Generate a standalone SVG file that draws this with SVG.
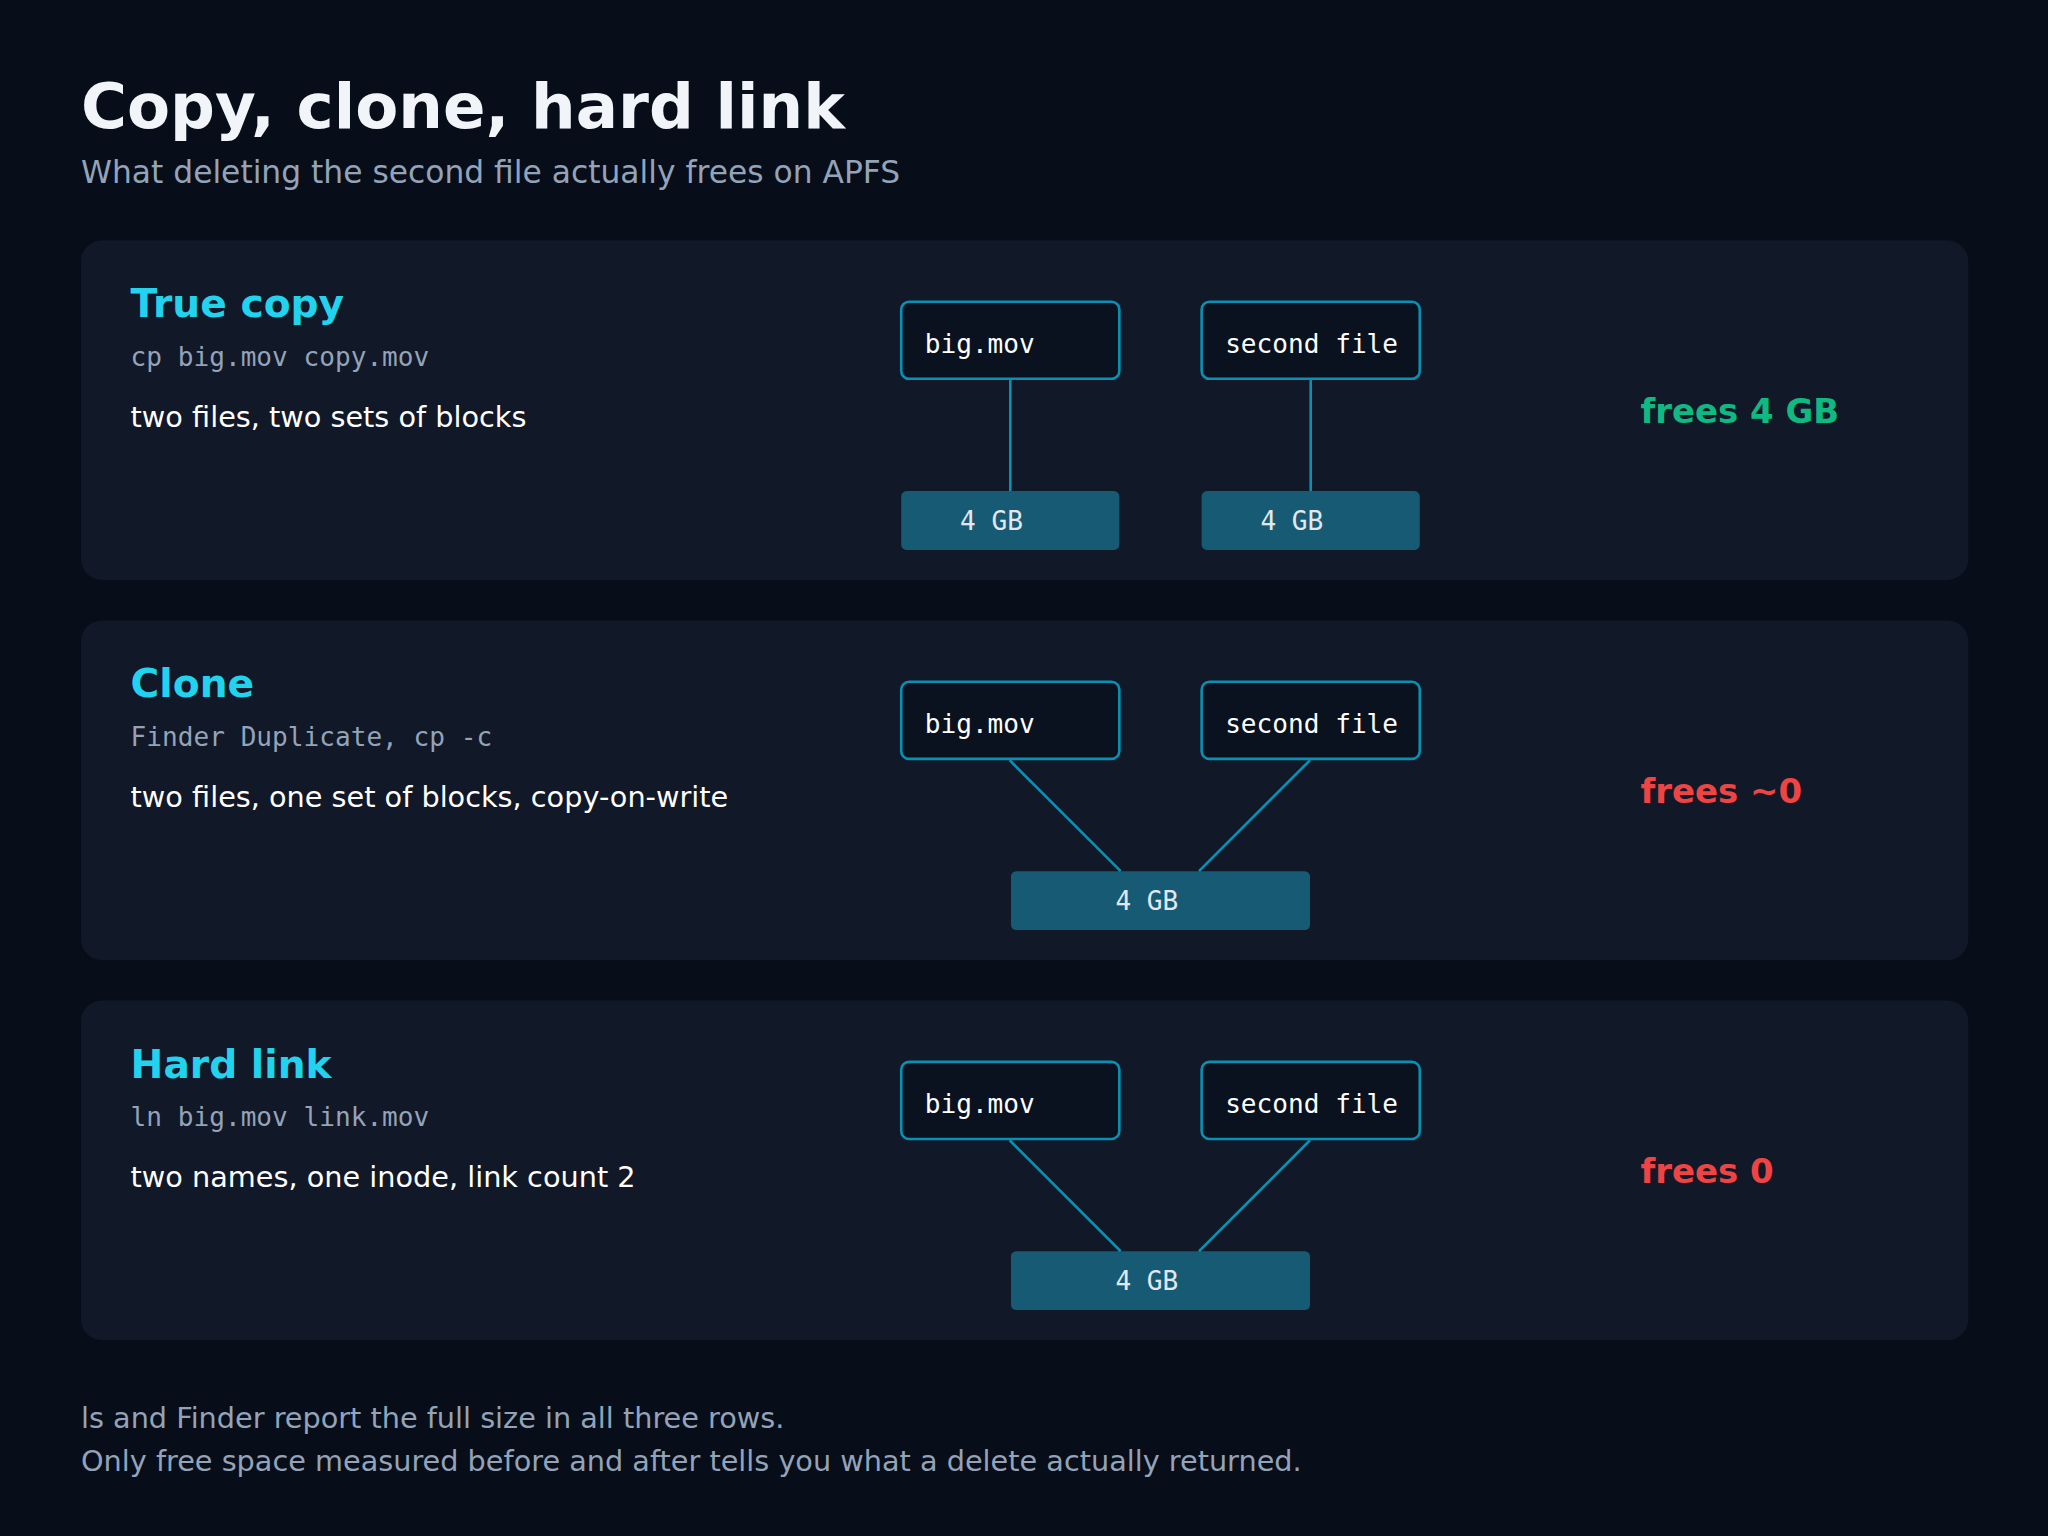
<svg xmlns="http://www.w3.org/2000/svg" width="2048" height="1536" viewBox="0 0 2048 1536">
<style>
.sans{font-family:"DejaVu Sans","Noto Sans",sans-serif}
.mono{font-family:"DejaVu Sans Mono","Liberation Mono",monospace}
.panel{fill:#111827}
.h{font-size:30px;font-weight:bold;fill:#22d3ee}
.cmd{font-size:20px;fill:#94a3b8}
.desc{font-size:22px;fill:#ffffff}
.file{fill:#0a1220;stroke:#0891b2;stroke-width:2}
.ft{font-size:20px;fill:#ffffff}
.blk{fill:#175a74}
.bt{font-size:20px;fill:#e2e8f0}
.conn{stroke:#0891b2;stroke-width:2;fill:none}
.res{font-size:26px;font-weight:bold}
</style>
<rect width="2048" height="1536" fill="#070e19"/>
<g transform="scale(1.30612)">
<g id="title">
<text x="62" y="98" class="sans" font-size="48" font-weight="bold" fill="#f1f5f9">Copy, clone, hard link</text>
<text x="62" y="140" class="sans" font-size="24" fill="#94a3b8">What deleting the second file actually frees on APFS</text>
</g>
<g id="row1">
<rect x="62" y="184" width="1445" height="260" rx="16" class="panel"/>
<text x="100" y="243" class="sans h">True copy</text>
<text x="100" y="280" class="mono cmd">cp big.mov copy.mov</text>
<text x="100" y="327" class="sans desc">two files, two sets of blocks</text>
<text x="1256" y="324" class="sans res" fill="#10b981">frees 4 GB</text>
</g>
<g id="row1-nodes">
<g id="r1-big"><rect x="690" y="231" width="167" height="59" rx="6" class="file"/><text x="708" y="270" class="mono ft">big.mov</text></g>
<g id="r1-second"><rect x="920" y="231" width="167" height="59" rx="6" class="file"/><text x="938" y="270" class="mono ft">second file</text></g>
<g id="r1-b1"><rect x="690" y="376" width="167" height="45" rx="4" class="blk"/><text x="735" y="406" class="mono bt">4 GB</text></g>
<g id="r1-b2"><rect x="920" y="376" width="167" height="45" rx="4" class="blk"/><text x="965" y="406" class="mono bt">4 GB</text></g>
</g>
<g id="row2">
<rect x="62" y="475" width="1445" height="260" rx="16" class="panel"/>
<text x="100" y="534" class="sans h">Clone</text>
<text x="100" y="571" class="mono cmd">Finder Duplicate, cp -c</text>
<text x="100" y="618" class="sans desc">two files, one set of blocks, copy-on-write</text>
<text x="1256" y="615" class="sans res" fill="#ef4444">frees ~0</text>
</g>
<g id="row2-nodes">
<g id="r2-big"><rect x="690" y="522" width="167" height="59" rx="6" class="file"/><text x="708" y="561" class="mono ft">big.mov</text></g>
<g id="r2-second"><rect x="920" y="522" width="167" height="59" rx="6" class="file"/><text x="938" y="561" class="mono ft">second file</text></g>
<g id="r2-b"><rect x="774" y="667" width="229" height="45" rx="4" class="blk"/><text x="854" y="697" class="mono bt">4 GB</text></g>
</g>
<g id="row3">
<rect x="62" y="766" width="1445" height="260" rx="16" class="panel"/>
<text x="100" y="825" class="sans h">Hard link</text>
<text x="100" y="862" class="mono cmd">ln big.mov link.mov</text>
<text x="100" y="909" class="sans desc">two names, one inode, link count 2</text>
<text x="1256" y="906" class="sans res" fill="#ef4444">frees 0</text>
</g>
<g id="row3-nodes">
<g id="r3-big"><rect x="690" y="813" width="167" height="59" rx="6" class="file"/><text x="708" y="852" class="mono ft">big.mov</text></g>
<g id="r3-second"><rect x="920" y="813" width="167" height="59" rx="6" class="file"/><text x="938" y="852" class="mono ft">second file</text></g>
<g id="r3-b"><rect x="774" y="958" width="229" height="45" rx="4" class="blk"/><text x="854" y="988" class="mono bt">4 GB</text></g>
</g>
<g id="connectors">
<line x1="773.5" y1="291" x2="773.5" y2="376" class="conn"/>
<line x1="1003.5" y1="291" x2="1003.5" y2="376" class="conn"/>
<line x1="773" y1="582" x2="858" y2="667" class="conn"/>
<line x1="1003" y1="582" x2="918" y2="667" class="conn"/>
<line x1="773" y1="873" x2="858" y2="958" class="conn"/>
<line x1="1003" y1="873" x2="918" y2="958" class="conn"/>
</g>
<g id="footer">
<text x="62" y="1093" class="sans" font-size="22" fill="#94a3b8">ls and Finder report the full size in all three rows.</text>
<text x="62" y="1126" class="sans" font-size="22" fill="#94a3b8">Only free space measured before and after tells you what a delete actually returned.</text>
</g>
</g>
</svg>
